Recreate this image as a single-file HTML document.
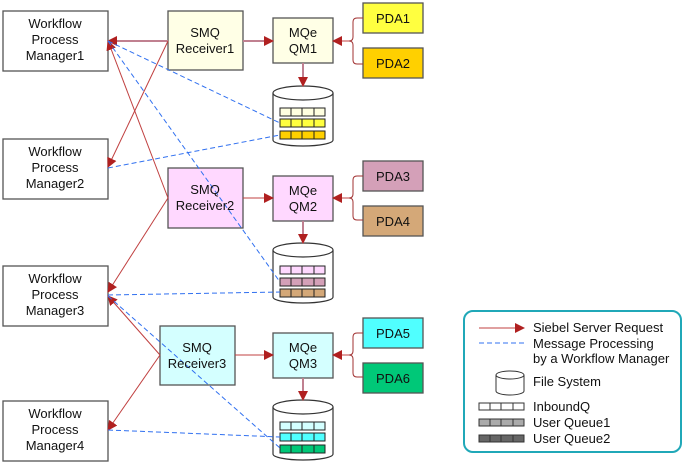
<!DOCTYPE html><html><head><style>body{margin:0;background:#fff}svg{display:block}text{font-family:"Liberation Sans",sans-serif;font-size:13px;fill:#111}</style></head><body>
<svg width="685" height="465" viewBox="0 0 685 465">
<defs><marker id="a" markerWidth="10" markerHeight="10" refX="9" refY="5" orient="auto" markerUnits="userSpaceOnUse"><path d="M0,0 L10,5 L0,10z" fill="#b02020"/></marker></defs>
<g stroke="#555" stroke-width="1.3" fill="#fff">
<rect x="3" y="11" width="105" height="60"/><rect x="3" y="139" width="105" height="60"/><rect x="3" y="266" width="105" height="60"/><rect x="3" y="401" width="105" height="60"/>
<rect x="168" y="11" width="75" height="59" fill="#ffffe6"/><rect x="168" y="168" width="75" height="60" fill="#ffd8ff"/><rect x="160" y="326" width="75" height="59" fill="#d4ffff"/>
<rect x="273" y="18" width="60" height="45" fill="#ffffe6"/><rect x="273" y="176" width="60" height="45" fill="#ffd8ff"/><rect x="273" y="333" width="60" height="45" fill="#d4ffff"/>
<rect x="363" y="3" width="60" height="30" fill="#ffff40"/><rect x="363" y="48" width="60" height="30" fill="#ffd000"/><rect x="363" y="161" width="60" height="30" fill="#d4a0b8"/><rect x="363" y="206" width="60" height="30" fill="#d4a878"/><rect x="363" y="318" width="60" height="30" fill="#50ffff"/><rect x="363" y="363" width="60" height="30" fill="#00c878"/>
</g>
<g stroke="#333" stroke-width="1.2" fill="#fff">
<path d="M273,93 v47 a30,6 0 0 0 60,0 v-47"/><ellipse cx="303" cy="93" rx="30" ry="7"/>
<path d="M273,250 v47 a30,6 0 0 0 60,0 v-47"/><ellipse cx="303" cy="250" rx="30" ry="7"/>
<path d="M273,407 v47 a30,6 0 0 0 60,0 v-47"/><ellipse cx="303" cy="407" rx="30" ry="7"/>
</g>
<g stroke="#222" stroke-width="1">
<rect x="280" y="108" width="45" height="8" fill="#ffffe0"/><rect x="280" y="119" width="45" height="8" fill="#ffff40"/><rect x="280" y="131" width="45" height="8" fill="#ffd000"/>
<rect x="280" y="266" width="45" height="8" fill="#ffd8ff"/><rect x="280" y="278" width="45" height="8" fill="#d4a0b8"/><rect x="280" y="289" width="45" height="8" fill="#d4a878"/>
<rect x="280" y="422" width="45" height="8" fill="#d4ffff"/><rect x="280" y="433" width="45" height="8" fill="#50ffff"/><rect x="280" y="445" width="45" height="8" fill="#00c878"/>
<path d="M291,108v8M302,108v8M314,108v8M291,119v8M302,119v8M314,119v8M291,131v8M302,131v8M314,131v8M291,266v8M302,266v8M314,266v8M291,278v8M302,278v8M314,278v8M291,289v8M302,289v8M314,289v8M291,422v8M302,422v8M314,422v8M291,433v8M302,433v8M314,433v8M291,445v8M302,445v8M314,445v8"/>
</g>
<g stroke="#c04040" stroke-width="1" fill="none" marker-end="url(#a)">
<path d="M168,41 L108,41" stroke="#c08090" stroke-width="2"/><path d="M168,41 L108,167"/><path d="M168,198 L108,41"/><path d="M168,198 L108,292"/><path d="M160,355 L108,296"/><path d="M160,355 L108,430"/>
<path d="M243,41 L273,41" stroke="#c08090" stroke-width="2"/><path d="M243,198 L273,198"/><path d="M235,355 L273,355"/>
<path d="M303,63 L303,86" stroke="#c08090" stroke-width="2"/><path d="M303,221 L303,243" stroke="#c08090" stroke-width="2"/><path d="M303,378 L303,400" stroke="#c08090" stroke-width="2"/>
<path d="M350,41 L333,41"/><path d="M350,198 L333,198"/><path d="M350,355 L333,355"/>
</g>
<g stroke="#a03030" stroke-width="1" fill="none">
<path d="M363,18 h-6 q-4,0 -4,4 v15 q0,4 -4,4 q4,0 4,4 v15 q0,4 4,4 h6"/>
<path d="M363,176 h-6 q-4,0 -4,4 v14 q0,4 -4,4 q4,0 4,4 v14 q0,4 4,4 h6"/>
<path d="M363,333 h-6 q-4,0 -4,4 v14 q0,4 -4,4 q4,0 4,4 v14 q0,4 4,4 h6"/>
</g>
<g stroke="#3070f0" stroke-width="1" fill="none" stroke-dasharray="5,3">
<path d="M108,41 L280,123"/><path d="M108,41 L280,282"/><path d="M108,168 L280,135"/><path d="M108,295 L280,292"/><path d="M108,296 L280,448"/><path d="M108,430 L280,437"/>
</g>
<g text-anchor="middle">
<text x="55" y="28">Workflow</text><text x="55" y="44">Process</text><text x="55" y="60">Manager1</text>
<text x="55" y="156">Workflow</text><text x="55" y="172">Process</text><text x="55" y="188">Manager2</text>
<text x="55" y="283">Workflow</text><text x="55" y="299">Process</text><text x="55" y="315">Manager3</text>
<text x="55" y="418">Workflow</text><text x="55" y="434">Process</text><text x="55" y="450">Manager4</text>
<text x="205" y="37">SMQ</text><text x="205" y="53">Receiver1</text>
<text x="205" y="194">SMQ</text><text x="205" y="210">Receiver2</text>
<text x="197" y="352">SMQ</text><text x="197" y="368">Receiver3</text>
<text x="303" y="37">MQe</text><text x="303" y="53">QM1</text>
<text x="303" y="195">MQe</text><text x="303" y="211">QM2</text>
<text x="303" y="352">MQe</text><text x="303" y="368">QM3</text>
<text x="393" y="23">PDA1</text><text x="393" y="68">PDA2</text><text x="393" y="181">PDA3</text><text x="393" y="226">PDA4</text><text x="393" y="338">PDA5</text><text x="393" y="383">PDA6</text>
</g>
<rect x="464" y="311" width="217" height="141" rx="9" fill="#fff" stroke="#20a8b8" stroke-width="2"/>
<path d="M479,328 H524" stroke="#c04040" marker-end="url(#a)"/>
<path d="M479,343 H524" stroke="#3070f0" stroke-dasharray="5,3"/>
<path d="M496,375 v16 a14,4 0 0 0 28,0 v-16" fill="#fff" stroke="#333"/><ellipse cx="510" cy="375" rx="14" ry="4" fill="#fff" stroke="#333"/>
<g stroke="#333"><rect x="479" y="403" width="45" height="7" fill="#fff"/><rect x="479" y="419" width="45" height="7" fill="#aaa"/><rect x="479" y="435" width="45" height="7" fill="#666"/>
<path d="M490,403v7M501,403v7M513,403v7M490,419v7M501,419v7M513,419v7M490,435v7M501,435v7M513,435v7"/></g>
<text x="533" y="332">Siebel Server Request</text><text x="533" y="348">Message Processing</text><text x="533" y="363">by a Workflow Manager</text>
<text x="533" y="386">File System</text><text x="533" y="411">InboundQ</text><text x="533" y="427">User Queue1</text><text x="533" y="443">User Queue2</text>
</svg></body></html>
